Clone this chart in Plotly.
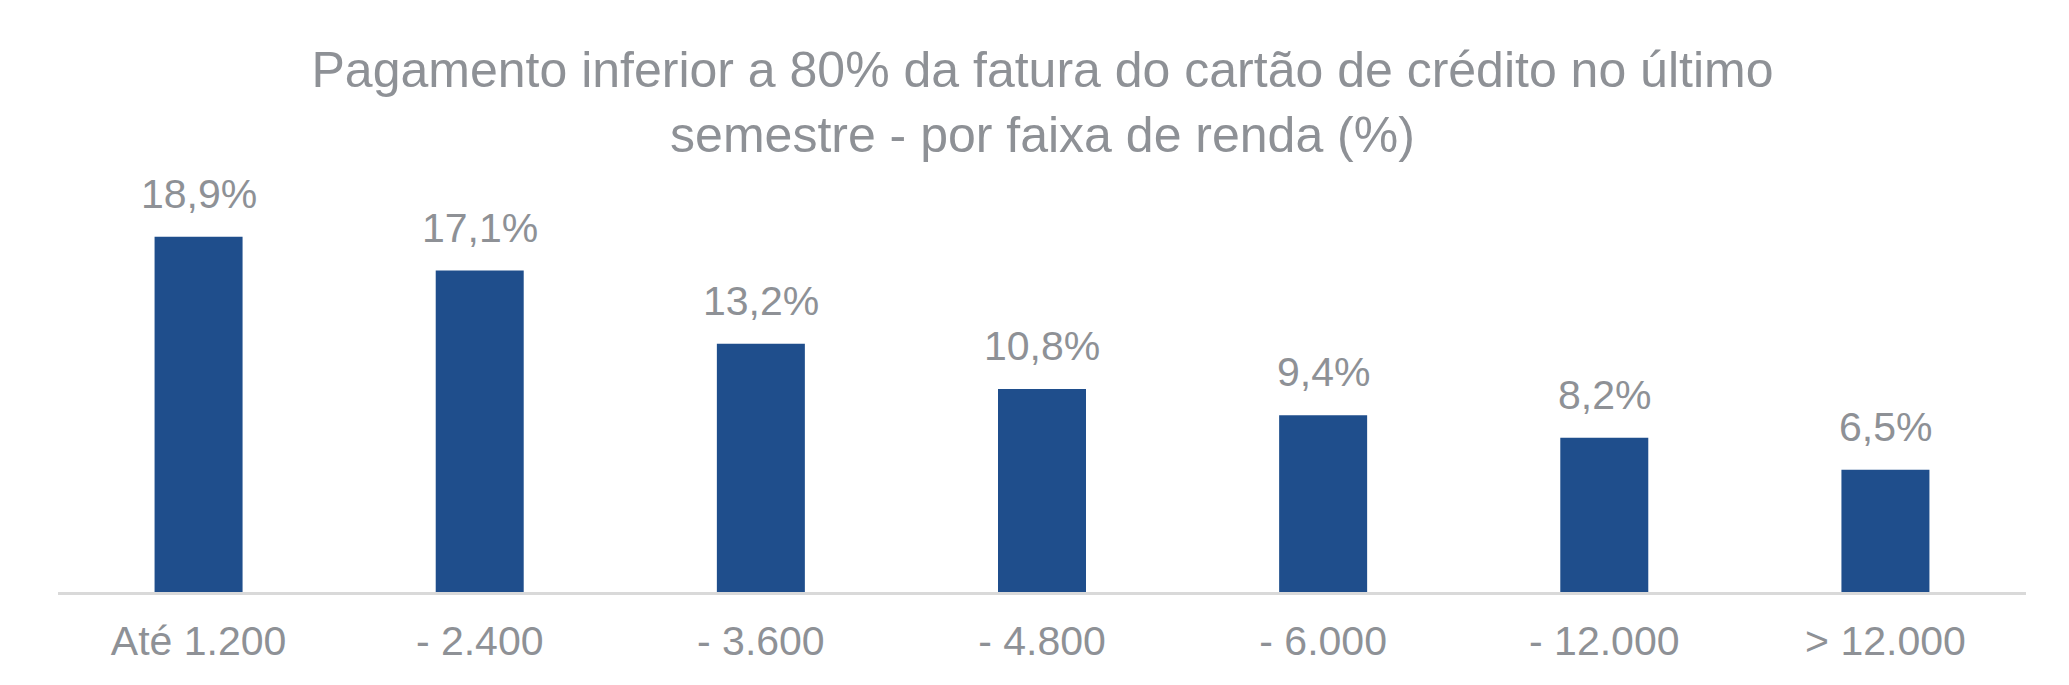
import plotly.graph_objects as go

# Faixas de renda e percentuais
categorias = ['Até 1.200', '- 2.400', '- 3.600', '- 4.800', '- 6.000', '- 12.000', '> 12.000']
valores = [18.9, 17.1, 13.2, 10.8, 9.4, 8.2, 6.5]
rotulos = ['18,9%', '17,1%', '13,2%', '10,8%', '9,4%', '8,2%', '6,5%']

titulo = 'Pagamento inferior a 80% da fatura do cartão de crédito no último<br>semestre - por faixa de renda (%)'

AZUL = '#1F4E8C'
CINZA = '#8E9196'
FONTE = 'Liberation Sans, Arial, sans-serif'

fig = go.Figure()
fig.add_trace(go.Bar(
    x=categorias,
    y=valores,
    marker=dict(color=AZUL, line=dict(width=0)),
    hoverinfo='skip',
))

# Rótulos de dados acima das barras
for cat, val, txt in zip(categorias, valores, rotulos):
    fig.add_annotation(
        x=cat, y=val, text=txt, showarrow=False,
        yanchor='bottom', yshift=18,
        font=dict(family=FONTE, size=41, color=CINZA),
    )

fig.update_layout(
    width=2069,
    height=685,
    margin=dict(l=50, r=51, t=208, b=101),
    paper_bgcolor='white',
    plot_bgcolor='white',
    bargap=0.687,
    showlegend=False,
    title=dict(
        text=titulo,
        x=0.5, xanchor='center',
        y=0.885, yanchor='top',
        font=dict(family=FONTE, size=50, color=CINZA),
    ),
    xaxis=dict(
        showgrid=False,
        showline=True,
        linecolor='#D9D9D9',
        linewidth=3,
        ticks='',
        tickfont=dict(family=FONTE, size=41, color=CINZA),
        ticklabelstandoff=11,
    ),
    yaxis=dict(
        range=[0, 20],
        visible=False,
        showgrid=False,
        zeroline=False,
    ),
)

fig.write_html('out.html')
